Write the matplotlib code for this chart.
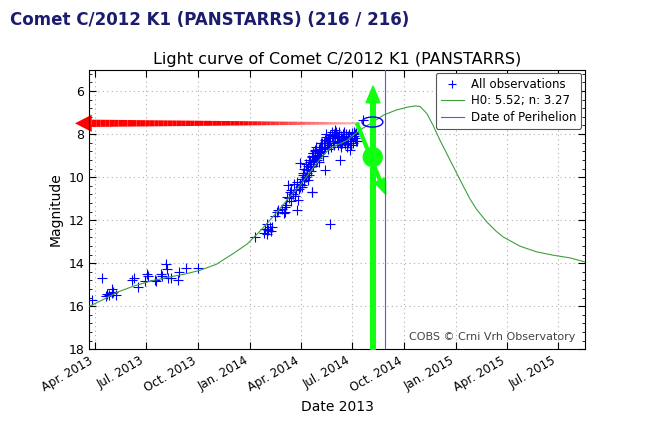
import datetime
import numpy as np
import matplotlib
matplotlib.use('Agg')
import matplotlib.pyplot as plt
import matplotlib.dates as mdates
from matplotlib.patches import Ellipse, Polygon
from matplotlib.ticker import AutoMinorLocator, MultipleLocator
from matplotlib.lines import Line2D

# observations: days after 2013-01-01, magnitude
obs_day = [84, 102, 111, 109, 114, 121, 122, 120, 128, 155, 160, 167, 179, 182, 184,
           196, 198, 207, 209, 220, 225, 216, 218, 238, 237, 252, 273,
           373, 397, 400, 404, 394, 401,
           415, 421, 424, 427, 430, 432, 435, 434, 440, 447, 450, 448, 453, 456, 452,
           454, 459, 465, 468, 474, 471, 476, 477, 480, 483, 486,
           456, 462, 465, 471, 474, 477, 480, 483, 485, 489, 492, 495, 497, 500, 503,
           506, 509, 512, 515, 518, 521, 524, 527, 530, 533, 536, 539, 542, 545, 548,
           524, 497, 474, 453, 506, 565, 549, 552, 555,
           457, 458, 460, 461, 463, 464, 466, 467, 469, 469, 472, 473, 475, 476, 478,
           479, 481, 482, 484, 486, 487, 488, 490, 491, 493, 494, 496, 498, 499, 501,
           502, 504, 505, 507, 508, 510, 511, 513, 514, 516, 517, 519, 520, 522, 523,
           525, 526, 528, 529, 531, 532, 534, 535, 537, 538, 540, 541, 543, 544, 546,
           547, 550, 551, 553, 437, 442, 444, 446, 438, 426, 429, 412, 409, 389, 392, 395]
obs_mag = [15.69, 14.71, 15.41, 15.52, 15.46, 15.22, 15.33, 15.40, 15.49, 14.79, 14.71, 15.10, 14.82, 14.51, 14.60,
           14.79, 14.82, 14.51, 14.60, 14.71, 14.71, 14.05, 14.25, 14.40, 14.79, 14.20, 14.20,
           12.78, 12.47, 12.31, 12.34, 12.62, 12.50,
           11.53, 11.50, 11.69, 11.41, 10.92, 10.37, 10.68, 10.95, 10.79, 11.53, 11.07, 10.22, 10.30, 10.45, 10.55,
           9.36, 9.83, 9.64, 10.14, 10.68, 9.52, 9.29, 8.90, 9.06, 9.21, 8.82,
           10.37, 9.99, 9.67, 9.29, 9.06, 8.90, 8.74, 9.13, 8.95, 8.59, 8.43, 8.67, 8.28, 8.12, 8.30,
           8.05, 7.89, 8.20, 7.81, 8.36, 8.12, 8.43, 8.25, 8.12, 8.45, 8.59, 8.43, 8.74, 7.97, 7.89,
           9.21, 9.67, 10.68, 10.45, 12.19, 7.35, 8.10, 7.95, 8.30,
           10.1, 9.9, 10.2, 9.6, 10.0, 9.4, 9.8, 9.5, 9.2, 9.9, 9.4, 9.7, 9.0, 9.5, 9.2,
           8.8, 9.3, 8.6, 9.0, 8.7, 9.3, 8.9, 8.4, 8.8, 8.6, 9.0, 8.4, 8.6, 8.0, 8.4,
           8.7, 8.2, 8.5, 8.3, 8.6, 8.1, 8.4, 8.0, 8.5, 8.2, 7.9, 8.1, 8.5, 8.3, 7.9,
           8.1, 8.6, 8.4, 8.0, 8.3, 7.9, 8.2, 8.0, 8.3, 8.1, 8.0, 8.3, 8.5, 8.2, 8.1,
           8.4, 8.2, 8.0, 8.3, 10.6, 10.3, 10.9, 10.6, 11.1, 11.6, 11.3, 11.6, 11.8, 12.6, 12.4, 12.2]

# model light curve
model_day = [80, 100, 131, 160, 190, 220, 250, 276, 305, 335, 360, 382, 400, 418, 435,
             453, 470, 489, 506, 520, 536, 550, 565, 583, 601, 624, 645, 658, 666, 678,
             689, 701, 719, 742, 754, 766, 784, 800, 813, 843, 872, 902, 931, 958]
model_mag = [16.00, 15.75, 15.33, 15.05, 14.82, 14.65, 14.50, 14.33, 14.05, 13.55, 13.10, 12.52, 12.00, 11.46, 10.90,
             10.40, 9.80, 9.15, 8.67, 8.50, 8.30, 8.00, 7.72, 7.43, 7.12, 6.88, 6.74, 6.69, 6.72, 7.05,
             7.60, 8.28, 9.21, 10.40, 11.00, 11.50, 12.08, 12.50, 12.78, 13.21, 13.47, 13.63, 13.75, 13.94]

perihelion = datetime.datetime(2014, 8, 27)
start = datetime.datetime(2013, 1, 1)
x_min_day, x_max_day = 80, 958

# overlay scribbles (days after 2013-01-01, magnitude)
red_tip = (54.7, 7.50)
red_head_base = 84.3
red_end = 559.5
green_x = 582.5
green_tip = 5.77
circle_c = (582, 9.07)
diag_from = (554, 7.5)
diag_to = (605, 10.8)
ellipse_c = (581.5, 7.44)
scribble_green = '#11ff11'

base = mdates.date2num(start)
ox = base + np.array(obs_day)
mx = base + np.array(model_day)

fig = plt.figure(figsize=(6.65, 4.43), dpi=100)
ax = fig.add_axes([0.1343, 0.2115, 0.7454, 0.6316])

fig.text(0.015, 0.943, 'Comet C/2012 K1 (PANSTARRS) (216 / 216)', fontsize=12,
         fontweight='bold', color='#1c1c6e')

# red tapered arrow with fading tail
n = 60
xs = np.linspace(base + red_head_base, base + red_end, n + 1)
ws = np.linspace(0.17, 0.045, n + 1)
for i in range(n):
    frac = i / n
    a = 1.0 if frac < 0.55 else 1.0 - 0.75 * (frac - 0.55) / 0.45
    poly = Polygon([(xs[i], red_tip[1] - ws[i]), (xs[i + 1], red_tip[1] - ws[i + 1]),
                    (xs[i + 1], red_tip[1] + ws[i + 1]), (xs[i], red_tip[1] + ws[i])],
                   closed=True, facecolor='red', edgecolor='none', alpha=a, zorder=2,
                   clip_on=False)
    ax.add_patch(poly)
head = Polygon([(base + red_tip[0], red_tip[1]), (base + red_head_base, red_tip[1] - 0.4),
                (base + red_head_base, red_tip[1] + 0.4)], closed=True, facecolor='red',
               edgecolor='none', zorder=2, clip_on=False)
ax.add_patch(head)

ax.plot(ox, obs_mag, '+', color='blue', ms=7, mew=0.8, zorder=3, label='All observations')
ax.plot(mx, model_mag, '-', color='#3f9f3f', lw=0.8, zorder=3, label='H0: 5.52; n: 3.27')

# green scribbles
ax.annotate('', xy=(base + green_x, green_tip), xytext=(base + green_x, 18.0),
            arrowprops=dict(arrowstyle='simple,head_width=1.0,head_length=1.2,tail_width=0.33',
                            mutation_scale=10, color=scribble_green, shrinkA=0, shrinkB=0),
            zorder=4)
ax.annotate('', xy=(base + diag_to[0], diag_to[1]), xytext=(base + diag_from[0], diag_from[1]),
            arrowprops=dict(arrowstyle='simple,head_width=0.85,head_length=1.1,tail_width=0.2',
                            mutation_scale=10, color=scribble_green, shrinkA=0, shrinkB=0),
            zorder=4)
ax.add_patch(Ellipse((base + circle_c[0], circle_c[1]), 36, 0.95, facecolor=scribble_green,
                     edgecolor='none', zorder=4))
ax.add_patch(Ellipse((base + ellipse_c[0], ellipse_c[1]), 37, 0.47, facecolor='none',
                     edgecolor='blue', lw=1, zorder=5))

ax.axvline(mdates.date2num(perihelion), color='#5555ff', lw=0.8, zorder=5,
           label='Date of Perihelion')

ax.set_xlim(base + x_min_day, base + x_max_day)
ax.set_ylim(18, 5)
ax.yaxis.set_major_locator(MultipleLocator(2))
ax.yaxis.set_minor_locator(AutoMinorLocator(5))
ax.xaxis.set_major_locator(mdates.MonthLocator(bymonth=[1, 4, 7, 10]))
ax.xaxis.set_major_formatter(mdates.DateFormatter('%b. %Y'))
ax.tick_params(direction='in', top=True, right=True, which='both', labelsize=9)
ax.tick_params(which='major', length=5)
ax.tick_params(which='minor', length=2.5)
for lbl in ax.get_xticklabels():
    lbl.set_rotation(30)
    lbl.set_ha('right')
    lbl.set_fontsize(8.5)
ax.grid(True, color='#b0b0b0', linestyle=(0, (1, 3)), lw=0.8)
ax.set_axisbelow(True)

ax.set_title('Light curve of Comet C/2012 K1 (PANSTARRS)', fontsize=11.5, pad=4)
ax.set_xlabel('Date 2013', fontsize=10)
ax.set_ylabel('Magnitude', fontsize=10)

handles = [Line2D([], [], ls='none', marker='+', color='blue', ms=6, mew=0.8),
           Line2D([], [], color='#3f9f3f', lw=0.8),
           Line2D([], [], color='#5555ff', lw=0.8)]
leg = ax.legend(handles, ['All observations', 'H0: 5.52; n: 3.27', 'Date of Perihelion'],
                loc='upper right', fontsize=8.5, fancybox=True, framealpha=1,
                edgecolor='#555555', borderpad=0.4, handlelength=2.0, handletextpad=0.6,
                labelspacing=0.3, borderaxespad=0.3)
leg.get_frame().set_linewidth(0.8)
leg.set_zorder(10)

ax.text(0.98, 0.045, 'COBS \u00a9 Crni Vrh Observatory', transform=ax.transAxes,
        ha='right', va='center', fontsize=8, color='#444444')

fig.savefig('out.png', dpi=100)
